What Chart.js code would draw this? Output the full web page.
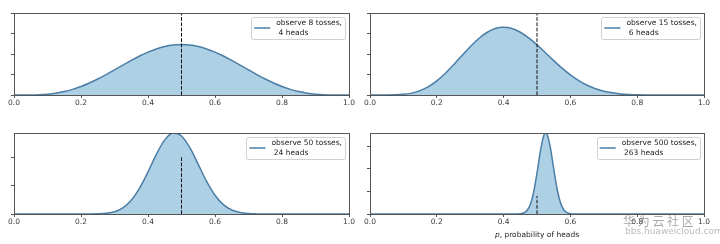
<!DOCTYPE html>
<html>
<head>
<meta charset="utf-8">
<script src="https://cdn.jsdelivr.net/npm/chart.js@4.4.0/dist/chart.umd.min.js"></script>
<style>
  html, body { margin: 0; padding: 0; background: #fff; }
  #wrap { position: relative; width: 720px; height: 244px; }
  #wrap canvas { position: absolute; }
</style>
</head>
<body>
<div id="wrap">
  <canvas id="c1" width="360" height="122" style="left:0;top:0"></canvas>
  <canvas id="c2" width="360" height="122" style="left:360px;top:0"></canvas>
  <canvas id="c3" width="360" height="122" style="left:0;top:122px"></canvas>
  <canvas id="c4" width="360" height="122" style="left:360px;top:122px"></canvas>
</div>
<script>
// p values shared by the three wide panels
const pGrid = [0, 0.025, 0.05, 0.075, 0.1, 0.125, 0.15, 0.175, 0.2, 0.225,
  0.25, 0.275, 0.3, 0.325, 0.35, 0.375, 0.4, 0.425, 0.45, 0.475,
  0.5, 0.525, 0.55, 0.575, 0.6, 0.625, 0.65, 0.675, 0.7, 0.725,
  0.75, 0.775, 0.8, 0.825, 0.85, 0.875, 0.9, 0.925, 0.95, 0.975, 1];

// posterior density
const dens8 = [0, 0.0002, 0.0032, 0.0146, 0.0413, 0.0902, 0.1665, 0.2737, 0.4129, 0.5825,
  0.7787, 0.9955, 1.2252, 1.4591, 1.6876, 1.9010, 2.0902, 2.2468, 2.3640, 2.4364,
  2.4609, 2.4364, 2.3640, 2.2468, 2.0902, 1.9010, 1.6876, 1.4591, 1.2252, 0.9955,
  0.7787, 0.5825, 0.4129, 0.2737, 0.1665, 0.0902, 0.0413, 0.0146, 0.0032, 0.0002, 0];

const dens15 = [0, 0, 0.0008, 0.0071, 0.0310, 0.0918, 0.2113, 0.4072, 0.6879, 1.0479,
  1.4680, 1.9171, 2.3558, 2.7461, 3.0490, 3.2407, 3.3056, 3.2425, 3.0618, 2.7876,
  2.4439, 2.0643, 1.6769, 1.3097, 0.9794, 0.6997, 0.4757, 0.3063, 0.1854, 0.1047,
  0.0544, 0.0257, 0.0108, 0.0039, 0.0012, 0.0003, 0, 0, 0, 0, 0];

const dens50 = [0, 0, 0, 0, 0, 0, 0, 0, 0.0003, 0.0023,
  0.0124, 0.0507, 0.1643, 0.4359, 0.9675, 1.8277, 2.9761, 4.2169, 5.2339, 5.7157,
  5.5051, 4.6791, 3.5036, 2.3037, 1.3227, 0.6580, 0.2805, 0.1011, 0.0302, 0.0073,
  0.0014, 0.0002, 0, 0, 0, 0, 0, 0, 0, 0, 0];

// the 500-toss curve is narrow, so it gets its own finer p values
const p500 = [0, 0.42, 0.43, 0.44, 0.45, 0.46, 0.47, 0.48, 0.49, 0.5,
  0.51, 0.52, 0.525, 0.53, 0.54, 0.55, 0.56, 0.57, 0.58, 0.59,
  0.6, 0.61, 0.62, 0.63, 1];
const dens500 = [0, 0, 0.0016, 0.0103, 0.0528, 0.2214, 0.7580, 2.1199, 4.8488, 9.0613,
  13.842, 17.281, 17.91, 17.633, 14.706, 10.024, 5.584, 2.5425, 0.9465, 0.2878,
  0.0715, 0.0145, 0.0024, 0, 0];

const legendLabels = [
  ['observe 8 tosses,', ' 4 heads'],
  ['observe 15 tosses,', ' 6 heads'],
  ['observe 50 tosses,', ' 24 heads'],
  ['observe 500 tosses,', ' 263 heads']
];
const xTicks = [0, 0.2, 0.4, 0.6, 0.8, 1.0];
const vlineX = 0.5;
const vlineTop = 4;

const lineColor = '#4a7ea6';
const fillColor = 'rgba(52, 138, 189, 0.4)';
const axisColor = '#555';
const fontFamily = '"DejaVu Sans", sans-serif';
const tickFont = { family: fontFamily, size: 7.5 };

// box round the plot area (matplotlib spines)
const framePlugin = {
  id: 'frame',
  afterDatasetsDraw(chart) {
    const a = chart.chartArea, ctx = chart.ctx;
    ctx.save();
    ctx.strokeStyle = axisColor;
    ctx.lineWidth = 1;
    ctx.strokeRect(Math.round(a.left) + 0.5, Math.round(a.top) + 0.5,
      Math.round(a.right - a.left), Math.round(a.bottom - a.top));
    ctx.restore();
  }
};

// legend drawn inside the upper right corner
const boxLegend = {
  id: 'boxLegend',
  afterDraw(chart, args, opts) {
    if (!opts.lines) return;
    const a = chart.chartArea, ctx = chart.ctx;
    ctx.save();
    ctx.font = '7.5px ' + fontFamily;
    const textW = Math.max(...opts.lines.map(l => ctx.measureText(l).width));
    const lineH = 10;
    const w = 3 + 16 + 6 + textW + 3;
    const h = opts.lines.length * lineH + 2;
    const right = a.right - 4, top = a.top + 4;
    const left = right - w;
    ctx.fillStyle = 'rgba(255,255,255,0.6)';
    ctx.strokeStyle = 'rgba(190,190,190,0.7)';
    ctx.lineWidth = 1;
    ctx.beginPath();
    ctx.roundRect(Math.round(left) + 0.5, top + 0.5, Math.round(w), h, 2);
    ctx.fill();
    ctx.stroke();
    const midY = top + h / 2;
    ctx.strokeStyle = lineColor;
    ctx.lineWidth = 1.5;
    ctx.beginPath();
    ctx.moveTo(left + 3, midY);
    ctx.lineTo(left + 19, midY);
    ctx.stroke();
    ctx.fillStyle = '#222';
    ctx.textBaseline = 'middle';
    opts.lines.forEach((l, i) => {
      ctx.fillText(l, left + 25, top + 1 + lineH / 2 + i * lineH);
    });
    ctx.restore();
  }
};

// x axis label with italic p, and the site watermark
const extras = {
  id: 'extras',
  afterDraw(chart, args, opts) {
    if (!opts.xTitle) return;
    const a = chart.chartArea, ctx = chart.ctx;
    ctx.save();
    ctx.fillStyle = '#222';
    ctx.textBaseline = 'middle';
    const italic = 'italic 7.5px ' + fontFamily, plain = '7.5px ' + fontFamily;
    ctx.font = italic;
    const w1 = ctx.measureText('p').width;
    ctx.font = plain;
    const w2 = ctx.measureText(opts.xTitle).width;
    let x = (a.left + a.right) / 2 - (w1 + w2) / 2;
    ctx.font = italic;
    ctx.fillText('p', x, opts.titleY);
    ctx.font = plain;
    ctx.fillText(opts.xTitle, x + w1, opts.titleY);

    ctx.fillStyle = 'rgba(110,110,110,0.6)';
    ctx.font = '12px "Noto Sans CJK SC"';
    ctx.fillText('华 为 云 社 区', 263, 99);
    ctx.fillStyle = 'rgba(140,140,140,0.6)';
    ctx.font = '9px ' + fontFamily;
    ctx.fillText('bbs.huaweicloud.com', 265, 110);
    ctx.restore();
  }
};

function makePanel(id, cfg) {
  return new Chart(document.getElementById(id), {
    type: 'line',
    data: {
      datasets: [
        {
          data: [{ x: vlineX, y: 0 }, { x: vlineX, y: vlineTop }],
          borderColor: '#111',
          borderWidth: 1,
          borderDash: [3.7, 1.6],
          pointRadius: 0,
          fill: false
        },
        {
          data: cfg.xs.map((x, i) => ({ x: x, y: cfg.ys[i] })),
          borderColor: lineColor,
          borderWidth: 1.5,
          backgroundColor: fillColor,
          fill: 'origin',
          pointRadius: 0,
          cubicInterpolationMode: 'monotone'
        }
      ]
    },
    options: {
      responsive: false,
      animation: false,
      events: [],
      layout: { padding: cfg.pad },
      plugins: {
        legend: { display: false },
        tooltip: { enabled: false },
        boxLegend: { lines: cfg.label },
        extras: { xTitle: cfg.xTitle, titleY: 113 }
      },
      scales: {
        x: {
          type: 'linear',
          min: 0,
          max: 1,
          afterBuildTicks: s => { s.ticks = xTicks.map(v => ({ value: v })); },
          ticks: {
            callback: v => v.toFixed(1),
            font: tickFont,
            color: '#3a3a3a',
            padding: 1,
            maxRotation: 0,
            autoSkip: false
          },
          grid: { drawOnChartArea: false, drawTicks: true, tickLength: 3, color: axisColor },
          border: { display: false },
          afterFit: s => { s.height = cfg.xH; }
        },
        y: {
          type: 'linear',
          min: 0,
          max: cfg.yMax,
          ticks: { stepSize: cfg.yStep, display: false, includeBounds: false },
          grid: { drawOnChartArea: false, drawTicks: true, tickLength: 3, color: axisColor },
          border: { display: false },
          afterFit: s => { s.width = cfg.yW; }
        }
      }
    },
    plugins: [framePlugin, boxLegend, extras]
  });
}

makePanel('c1', { xs: pGrid, ys: dens8, label: legendLabels[0], yMax: 4, yStep: 1,
  pad: { left: 0, top: 13, right: 11, bottom: 0 }, yW: 14, xH: 27 });
makePanel('c2', { xs: pGrid, ys: dens15, label: legendLabels[1], yMax: 4, yStep: 1,
  pad: { left: 0, top: 13, right: 16, bottom: 0 }, yW: 10, xH: 27 });
makePanel('c3', { xs: pGrid, ys: dens50, label: legendLabels[2], yMax: 5.72, yStep: 2,
  pad: { left: 0, top: 11, right: 11, bottom: 0 }, yW: 14, xH: 30 });
makePanel('c4', { xs: p500, ys: dens500, label: legendLabels[3], yMax: 17.92, yStep: 5,
  pad: { left: 0, top: 11, right: 16, bottom: 0 }, yW: 10, xH: 30,
  xTitle: ', probability of heads' });
</script>
</body>
</html>
